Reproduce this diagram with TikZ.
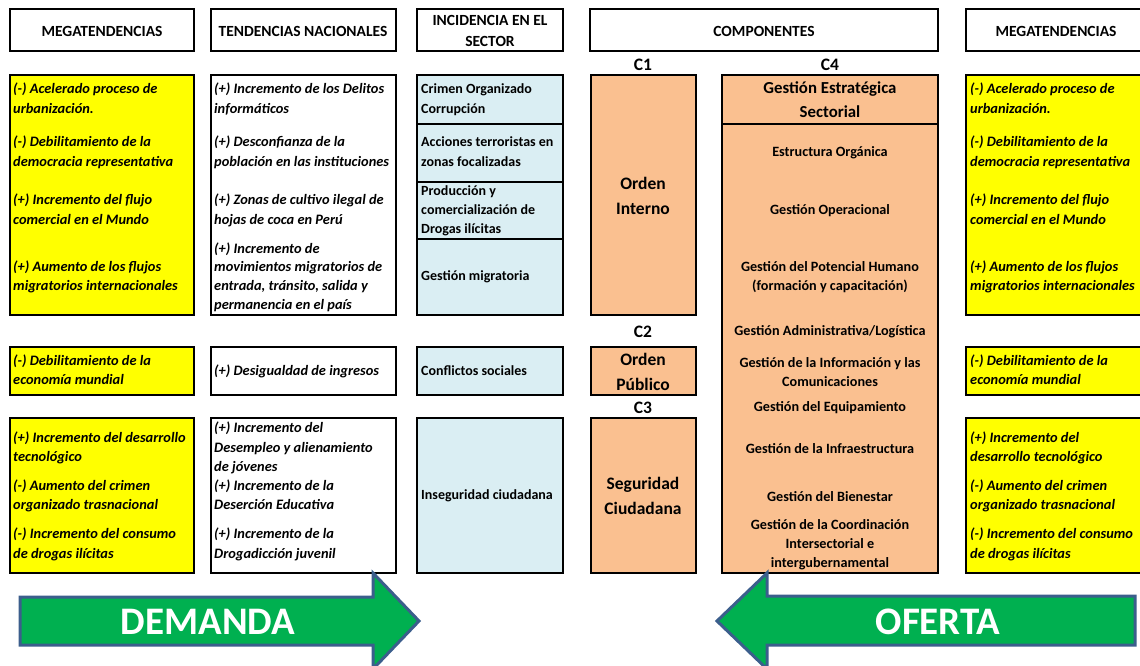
\documentclass[tikz,border=0pt]{standalone}
\usepackage{fontspec}
\setmainfont{Carlito}

\definecolor{amarillo}{HTML}{FFFF00}
\definecolor{celeste}{HTML}{DAEEF3}
\definecolor{naranja}{HTML}{FAC090}
\definecolor{verde}{HTML}{00B050}
\definecolor{bordeflecha}{HTML}{3B5E8C}

\newcommand{\fsz}[2]{\fontsize{#1}{#2}\selectfont}

\begin{document}
\begin{tikzpicture}[x=1pt, y=-1pt,
  caja/.style={draw=black, line width=2.5pt},
  tit/.style={font=\fsz{15.5}{21}\bfseries, align=center, inner sep=0},
  tend/.style={font=\fsz{14.4}{19.5}\bfseries\itshape, anchor=mid west, inner sep=0, yshift=-1.5pt},
  inci/.style={font=\fsz{14}{19}\bfseries, anchor=mid west, inner sep=0, yshift=-1.5pt},
  comp/.style={font=\fsz{14.2}{19}\bfseries, align=center, inner sep=0},
  grande/.style={font=\fsz{17.5}{25}\bfseries, align=center, inner sep=0},
  flecha/.style={fill=verde, draw=bordeflecha, line width=3pt, line join=miter},
  rotulo/.style={font=\fsz{39}{40}\bfseries, text=white, inner sep=0}]

\useasboundingbox (0,0) rectangle (1140,666);

% encabezados
\draw[caja] (10,9) rectangle (194,51);
\draw[caja] (211,9) rectangle (396,51);
\draw[caja] (417,9) rectangle (563,51);
\draw[caja] (590,9) rectangle (938,51);
\draw[caja] (966,9) rectangle (1150,51);
\node[tit] (h1) at (102,31) {MEGATENDENCIAS};
\node[tit] (h2) at (303,31) {TENDENCIAS NACIONALES};
\node[tit] (h3) at (490,30.5) {INCIDENCIA EN EL\\SECTOR};
\node[tit] (h4) at (764,31) {COMPONENTES};
\node[tit] (h5) at (1056,31) {MEGATENDENCIAS};

% megatendencias (izquierda)
\draw[caja, fill=amarillo] (10,75) rectangle (194,315);
\draw[caja, fill=amarillo] (10,347) rectangle (194,395);
\draw[caja, fill=amarillo] (10,418) rectangle (194,573);
\foreach \y/\t [count=\i] in {90/{(-) Acelerado proceso de}, 110/{urbanización.},
    143/{(-) Debilitamiento de la}, 163/{democracia representativa},
    201/{(+) Incremento del flujo}, 221/{comercial en el Mundo},
    268/{(+) Aumento de los flujos}, 287/{migratorios internacionales},
    362/{(-) Debilitamiento de la}, 381/{economía mundial},
    439/{(+) Incremento del desarrollo}, 458/{tecnológico},
    487/{(-) Aumento del crimen}, 506/{organizado trasnacional},
    535/{(-) Incremento del consumo}, 555/{de drogas ilícitas}}
  \node[tend] (mi\i) at (13,\y) {\t};

% tendencias nacionales
\draw[caja] (211,75) rectangle (396,315);
\draw[caja] (211,347) rectangle (396,395);
\draw[caja] (211,418) rectangle (396,573);
\foreach \y/\t [count=\i] in {90/{(+) Incremento de los Delitos}, 110/{informáticos},
    143/{(+) Desconfianza de la}, 163/{población en las instituciones},
    201/{(+) Zonas de cultivo ilegal de}, 221/{hojas de coca en Perú},
    250/{(+) Incremento de}, 268/{movimientos migratorios de},
    287/{entrada, tránsito, salida y}, 306/{permanencia en el país},
    372/{(+) Desigualdad de ingresos},
    429/{(+) Incremento del}, 449/{Desempleo y alienamiento}, 468/{de jóvenes},
    487/{(+) Incremento de la}, 506/{Deserción Educativa},
    535/{(+) Incremento de la}, 555/{Drogadicción juvenil}}
  \node[tend] (tn\i) at (214,\y) {\t};

% incidencia en el sector
\draw[caja, fill=celeste] (417,75) rectangle (563,315);
\draw[line width=2pt] (417,124) -- (563,124);
\draw[line width=2pt] (417,182) -- (563,182);
\draw[line width=2pt] (417,239) -- (563,239);
\draw[caja, fill=celeste] (417,347) rectangle (563,395);
\draw[caja, fill=celeste] (417,418) rectangle (563,573);
\foreach \y/\t [count=\i] in {90/{Crimen Organizado}, 110/{Corrupción},
    143/{Acciones terroristas en}, 163/{zonas focalizadas},
    192/{Producción y}, 211/{comercialización de}, 230/{Drogas ilícitas},
    277/{Gestión migratoria}, 372/{Conflictos sociales},
    496/{Inseguridad ciudadana}}
  \node[inci] (in\i) at (421,\y) {\t};

% componentes
\draw[caja, fill=naranja] (591,75) rectangle (696,315);
\draw[caja, fill=naranja] (591,347) rectangle (696,395);
\draw[caja, fill=naranja] (591,418) rectangle (696,573);
\node[grande] (c1) at (643,65) {C1};
\node[grande] (c2) at (643,332) {C2};
\node[grande] (c3) at (643,408) {C3};
\node[grande] (c4) at (830,65) {C4};
\node[grande] (oi) at (643,196) {Orden\\Interno};
\node[grande] (op) at (643,371.5) {Orden\\Público};
\node[grande] (sc) at (643,496) {Seguridad\\Ciudadana};

\draw[caja, fill=naranja] (722,75) rectangle (938,573);
\draw[line width=2pt] (722,124) -- (938,124);
\node[grande, font=\fsz{16.8}{24}\bfseries] (ges) at (830,100) {Gestión Estratégica\\Sectorial};
\foreach \y/\t [count=\i] in {153/{Estructura Orgánica}, 211/{Gestión Operacional},
    277.5/{Gestión del Potencial Humano\\(formación y capacitación)},
    332/{Gestión Administrativa/Logística},
    372/{Gestión de la Información y las\\Comunicaciones},
    408/{Gestión del Equipamiento}, 449/{Gestión de la Infraestructura},
    497/{Gestión del Bienestar},
    545/{Gestión de la Coordinación\\Intersectorial e\\intergubernamental}}
  \node[comp] (g\i) at (830,\y) {\t};

% megatendencias (derecha)
\draw[caja, fill=amarillo] (966,75) rectangle (1150,315);
\draw[caja, fill=amarillo] (966,347) rectangle (1150,395);
\draw[caja, fill=amarillo] (966,418) rectangle (1150,573);
\foreach \y/\t [count=\i] in {90/{(-) Acelerado proceso de}, 110/{urbanización.},
    143/{(-) Debilitamiento de la}, 163/{democracia representativa},
    201/{(+) Incremento del flujo}, 221/{comercial en el Mundo},
    268/{(+) Aumento de los flujos}, 287/{migratorios internacionales},
    362/{(-) Debilitamiento de la}, 381/{economía mundial},
    439/{(+) Incremento del}, 458/{desarrollo tecnológico},
    487/{(-) Aumento del crimen}, 506/{organizado trasnacional},
    535/{(-) Incremento del consumo}, 555/{de drogas ilícitas}}
  \node[tend] (md\i) at (970,\y) {\t};

% flechas
\draw[flecha] (20,597) -- (373,597) -- (373,573) -- (419,621) -- (373,669)
  -- (373,645) -- (20,645) -- cycle;
\node[rotulo] (dem) at (208,621.5) {DEMANDA};
\draw[flecha] (1135,596) -- (767,596) -- (767,573) -- (717,621) -- (767,669)
  -- (767,645) -- (1135,645) -- cycle;
\node[rotulo] (ofe) at (938,621.5) {OFERTA};
\end{tikzpicture}
\end{document}
